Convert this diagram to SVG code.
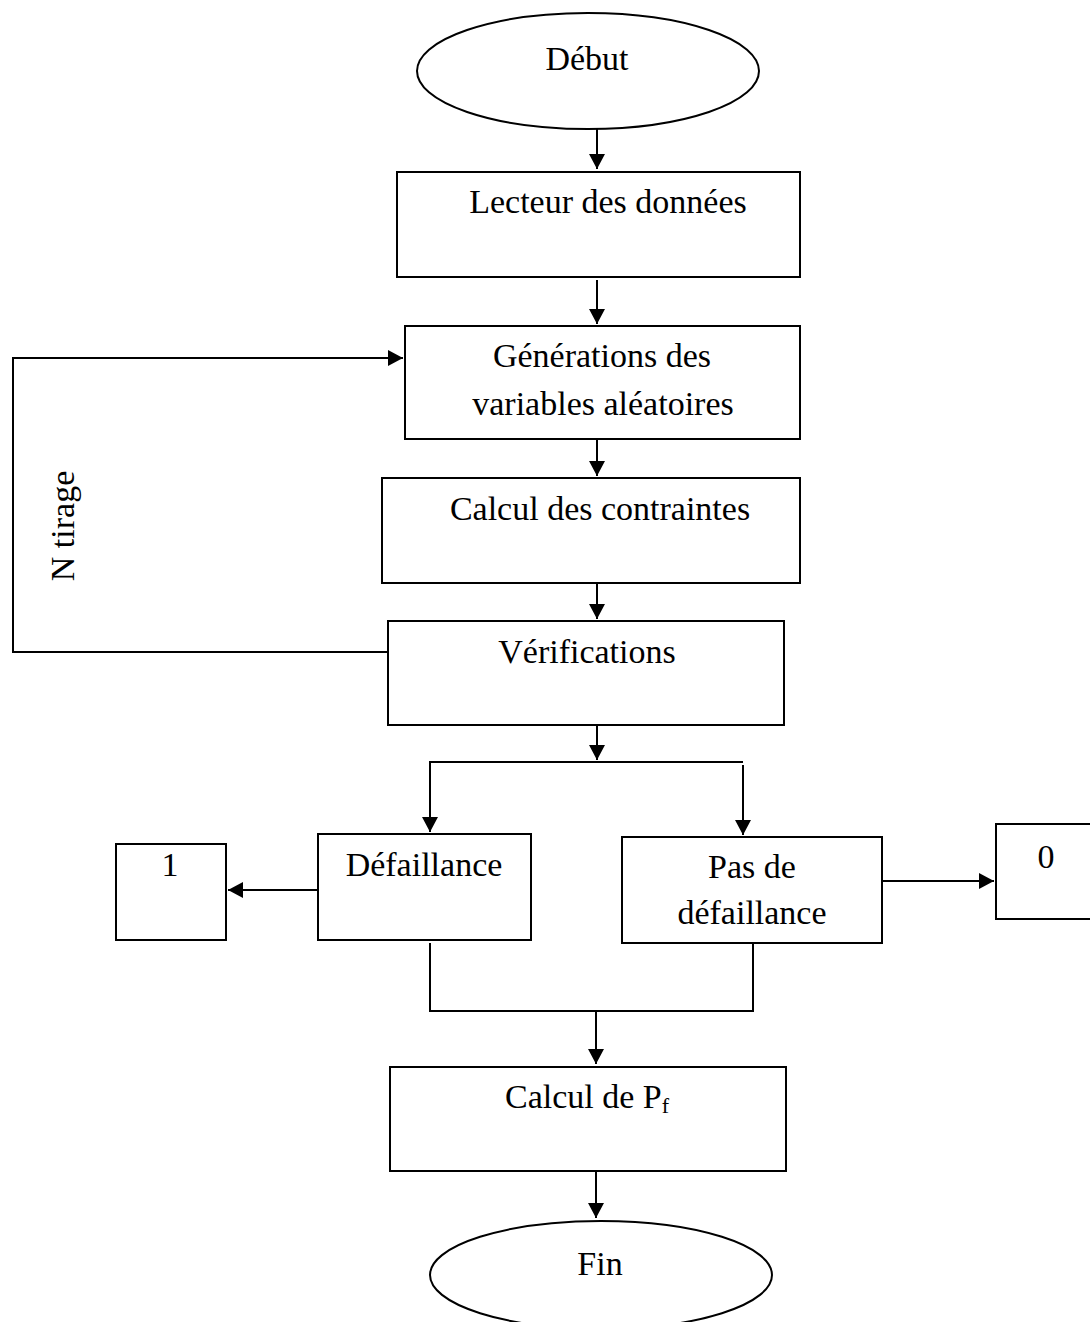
<svg xmlns="http://www.w3.org/2000/svg" width="1090" height="1322" viewBox="0 0 1090 1322">
<style>
.n{fill:#fff;stroke:#000;stroke-width:2}
.c{fill:none;stroke:#000;stroke-width:2}
.t{font-family:"Liberation Serif","Times New Roman",serif;font-size:34px;fill:#000}
.m{text-anchor:middle}
</style>
<defs>
<marker id="ah" markerUnits="userSpaceOnUse" markerWidth="15" markerHeight="16" refX="15" refY="8" orient="auto">
<path d="M0,0 L15,8 L0,16 z" fill="#000"/>
</marker>
</defs>
<rect width="1090" height="1322" fill="#fff"/>
<g id="connectors">
<path class="c" d="M597,129 V169" marker-end="url(#ah)"/>
<path class="c" d="M597,280 V324" marker-end="url(#ah)"/>
<path class="c" d="M391,652 H13 V358 H403" marker-end="url(#ah)"/>
<path class="c" d="M597,440 V476" marker-end="url(#ah)"/>
<path class="c" d="M597,583 V619" marker-end="url(#ah)"/>
<path class="c" d="M597,725 V760" marker-end="url(#ah)"/>
<path class="c" d="M743,762 H430 V832" marker-end="url(#ah)"/>
<path class="c" d="M743,765 V835" marker-end="url(#ah)"/>
<path class="c" d="M318,890 H228" marker-end="url(#ah)"/>
<path class="c" d="M882,881 H994" marker-end="url(#ah)"/>
<path class="c" d="M430,943 V1011 H753 V943"/>
<path class="c" d="M596,1011 V1064" marker-end="url(#ah)"/>
<path class="c" d="M596,1171 V1218" marker-end="url(#ah)"/>
</g>
<g id="debut">
<ellipse class="n" cx="588" cy="71" rx="171" ry="58"/>
<text class="t m" x="587" y="70">Début</text>
</g>
<g id="lecteur">
<rect class="n" x="397" y="172" width="403" height="105"/>
<text class="t m" x="608" y="213">Lecteur des données</text>
</g>
<g id="generations">
<rect class="n" x="405" y="326" width="395" height="113"/>
<text class="t m" x="602" y="367">Générations des</text>
<text class="t m" x="603" y="415">variables aléatoires</text>
</g>
<g id="ntirage">
<text class="t m" transform="translate(74,526) rotate(-90)" x="0" y="0">N tirage</text>
</g>
<g id="contraintes">
<rect class="n" x="382" y="478" width="418" height="105"/>
<text class="t m" x="600" y="520">Calcul des contraintes</text>
</g>
<g id="verifications">
<rect class="n" x="388" y="621" width="396" height="104"/>
<text class="t m" x="587" y="663">Vérifications</text>
</g>
<g id="defaillance">
<rect class="n" x="318" y="834" width="213" height="106"/>
<text class="t m" x="424" y="876">Défaillance</text>
</g>
<g id="un">
<rect class="n" x="116" y="844" width="110" height="96"/>
<text class="t m" x="170" y="876">1</text>
</g>
<g id="pasdefaillance">
<rect class="n" x="622" y="837" width="260" height="106"/>
<text class="t m" x="752" y="878">Pas de</text>
<text class="t m" x="752" y="924">défaillance</text>
</g>
<g id="zero">
<rect class="n" x="996" y="824" width="100" height="95"/>
<text class="t m" x="1046" y="868">0</text>
</g>
<g id="calculpf">
<rect class="n" x="390" y="1067" width="396" height="104"/>
<text class="t" x="505" y="1108">Calcul de P<tspan font-size="22" dy="5">f</tspan></text>
</g>
<g id="fin">
<ellipse class="n" cx="601" cy="1275" rx="171" ry="54"/>
<text class="t m" x="600" y="1275">Fin</text>
</g>
</svg>
